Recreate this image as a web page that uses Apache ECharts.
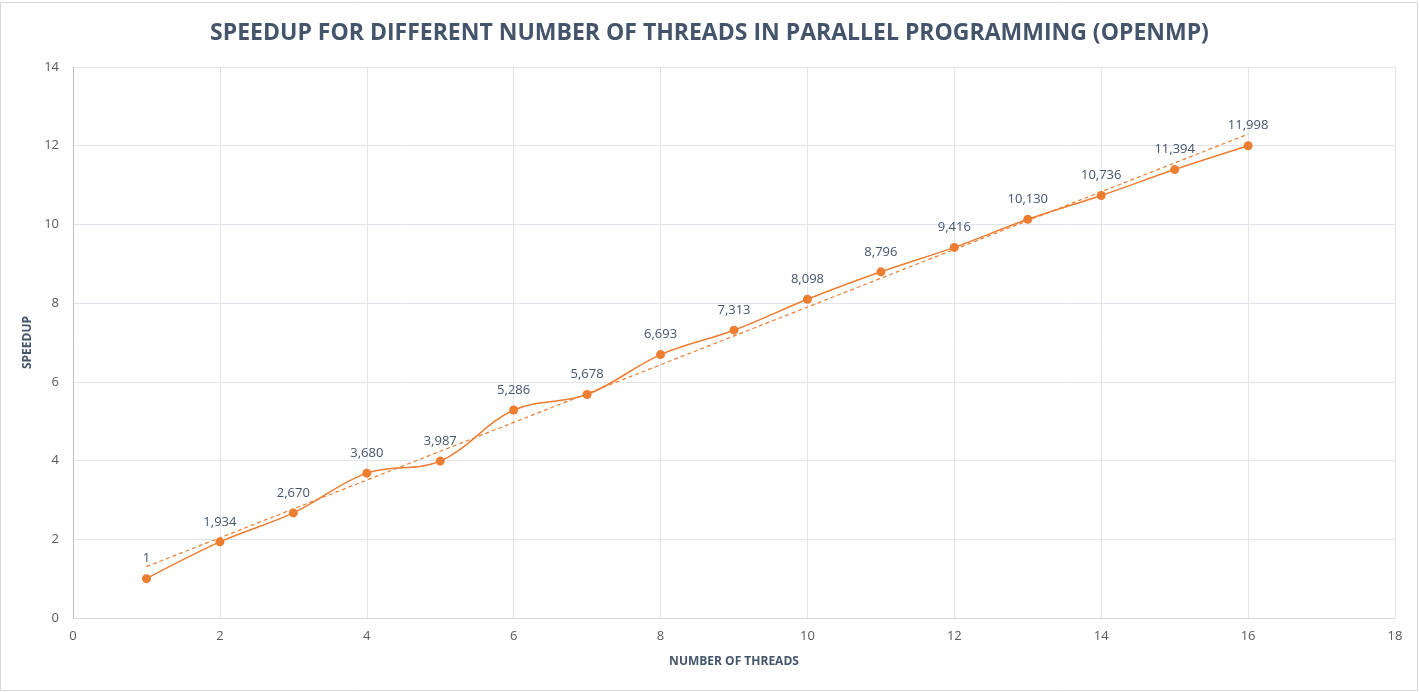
<!DOCTYPE html>
<html>
<head>
<meta charset="utf-8">
<style>
html,body{margin:0;padding:0;background:#fff;}
#chart{width:1419px;height:692px;}
</style>
<script src="https://cdn.jsdelivr.net/npm/echarts@6/dist/echarts.min.js"></script>
</head>
<body>
<div id="chart"></div>
<script>
var threads = [1,2,3,4,5,6,7,8,9,10,11,12,13,14,15,16];
var speedup = [1,1.934,2.670,3.680,3.987,5.286,5.678,6.693,7.313,8.098,8.796,9.416,10.130,10.736,11.394,11.998];
var xTicks = [0,2,4,6,8,10,12,14,16,18];
var yTicks = [0,2,4,6,8,10,12,14];

// linear trendline (least squares) from the data
var n = threads.length, sx=0, sy=0, sxy=0, sxx=0;
for (var i=0;i<n;i++){sx+=threads[i];sy+=speedup[i];sxy+=threads[i]*speedup[i];sxx+=threads[i]*threads[i];}
var slope = (n*sxy - sx*sy)/(n*sxx - sx*sx);
var icpt = (sy - slope*sx)/n;
var x0 = threads[0], x1 = threads[n-1];
var trend = [[x0, icpt+slope*x0],[x1, icpt+slope*x1]];

var pts = threads.map(function(t,i){return [t, speedup[i]];});
function fmt(v){
  if (Math.round(v) === v) return String(v);
  return v.toFixed(3).replace('.', ',');
}

var chart = echarts.init(document.getElementById('chart'));
chart.setOption({
  animation:false,
  backgroundColor:'#fff',
  graphic:[{type:'rect',shape:{x:0.5,y:2.5,width:1417,height:688},style:{fill:'none',stroke:'#D9D9D9',lineWidth:1},silent:true}],
  title:{
    text:'SPEEDUP FOR DIFFERENT NUMBER OF THREADS IN PARALLEL PROGRAMMING (OPENMP)',
    left:'center', top:17,
    textStyle:{fontFamily:'Open Sans',fontWeight:'bold',fontSize:23,color:'#44546A'}
  },
  grid:{left:73,right:24,top:67,bottom:74},
  xAxis:{
    type:'value',min:0,max:18,interval:2,
    name:'NUMBER OF THREADS',nameLocation:'middle',nameGap:38,
    nameTextStyle:{fontFamily:'Open Sans',fontWeight:'bold',fontSize:12,color:'#44546A'},
    axisLine:{show:true,lineStyle:{color:'#D9D9D9'}},
    axisTick:{show:false},
    axisLabel:{color:'#595959',fontFamily:'Open Sans',fontSize:13,margin:12,
      formatter:function(v){return xTicks.indexOf(v)>=0?String(v):'';}},
    splitLine:{show:true,lineStyle:{color:'#E1E4EA',width:1}}
  },
  yAxis:{
    type:'value',min:0,max:14,interval:2,
    name:'SPEEDUP',nameLocation:'middle',nameGap:37,nameRotate:90,
    nameTextStyle:{fontFamily:'Open Sans',fontWeight:'bold',fontSize:12,color:'#44546A'},
    axisLine:{show:true,lineStyle:{color:'#BFBFBF'}},
    axisTick:{show:false},
    axisLabel:{color:'#595959',fontFamily:'Open Sans',fontSize:13,margin:14,
      formatter:function(v){return yTicks.indexOf(v)>=0?String(v):'';}},
    splitLine:{show:true,lineStyle:{color:'#E1E4EA',width:1}}
  },
  series:[
    {
      type:'line',data:trend,symbol:'none',silent:true,z:1,
      lineStyle:{color:'#ED7D31',width:1.2,type:[4,3]}
    },
    {
      type:'line',data:pts,smooth:0.35,symbol:'circle',symbolSize:9,z:3,
      lineStyle:{color:'#ED7D31',width:1.5},
      itemStyle:{color:'#ED7D31'},
      label:{show:true,position:'top',distance:9,color:'#44546A',fontFamily:'Open Sans',fontSize:13,
        formatter:function(p){return fmt(p.value[1]);}}
    }
  ]
});
</script>
</body>
</html>
